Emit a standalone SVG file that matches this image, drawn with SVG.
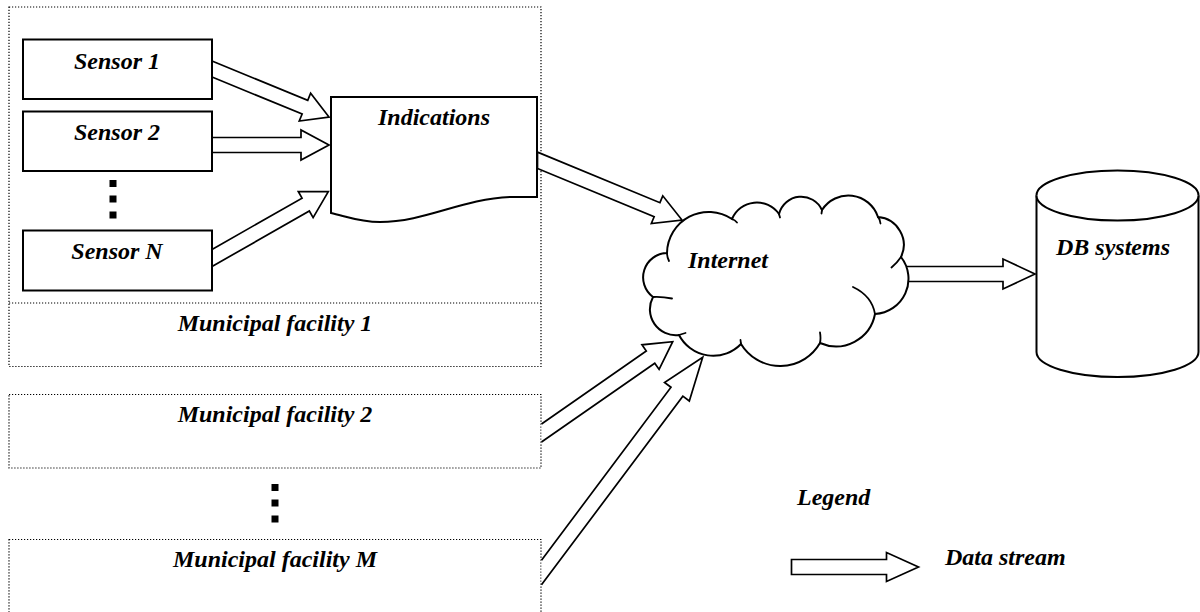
<svg xmlns="http://www.w3.org/2000/svg" width="1200" height="612" viewBox="0 0 1200 612" font-family="'Liberation Serif', 'Times New Roman', Times, serif">
  <style>
    .lbl { font-size: 24px; font-weight: 700; font-style: italic; fill: #000; }
    .mid { text-anchor: middle; }
    .area { fill: none; stroke: #000; stroke-width: 1.2; stroke-dasharray: 1.2 1.8; }
    .box { fill: #fff; stroke: #000; stroke-width: 2; }
    .flow { fill: #fff; stroke: #000; stroke-width: 1.7; stroke-linejoin: miter; }
    .edge { fill: none; stroke: #000; stroke-width: 1.8; stroke-linecap: round; }
    .dot { fill: #000; }
  </style>
  <rect width="1200" height="612" fill="#fff"/>

  <!-- municipal facilities (dotted areas) -->
  <g id="facility-1">
    <rect class="area" x="9" y="7" width="532" height="359.5"/>
    <line class="area" x1="9" y1="303" x2="541" y2="303"/>
    <text class="lbl mid" x="275" y="331">Municipal facility 1</text>
  </g>
  <g id="facility-2">
    <rect class="area" x="9" y="394.5" width="532" height="73.5"/>
    <text class="lbl mid" x="275" y="422">Municipal facility 2</text>
  </g>
  <g id="facility-ellipsis">
    <rect class="dot" x="271.5" y="484" width="7" height="7"/>
    <rect class="dot" x="271.5" y="499.5" width="7" height="7"/>
    <rect class="dot" x="271.5" y="515.5" width="7" height="7"/>
  </g>
  <g id="facility-M">
    <rect class="area" x="9" y="539.5" width="532" height="100"/>
    <text class="lbl mid" x="275" y="566.5">Municipal facility M</text>
  </g>

  <!-- data streams -->
  <g id="connectors">
    <polygon class="flow" points="212,61 307.75,100.28 310.63,93.25 329,117 299.25,121.01 302.13,113.98 212,77"/>
    <polygon class="flow" points="212,137.5 301,137.5 301,130 329,145 301,160 301,152.5 212,152.5"/>
    <polygon class="flow" points="212,249.5 302.04,198.12 298.28,191.51 328.3,191.7 313.12,217.59 309.36,210.98 212,266.5"/>
    <polygon class="flow" points="537.5,152.1 659.95,202.67 662.78,195.83 682,220 651.32,223.55 654.15,216.71 537.5,168.5"/>
    <path class="flow" d="M541.5 424 L646.3 351.05 L641.96 344.81 L672.7 341.7 L659.1 369.45 L654.76 363.21 L541.5 442"/>
    <path class="flow" d="M541.5 560.2 L671 387.27 L664.52 382.42 L702.7 357.3 L689.32 401 L682.84 396.15 L541.5 584.8"/>
    <polygon class="flow" points="900,266.5 1003,266.5 1003,259 1035,274 1003,289 1003,281.5 900,281.5"/>
  </g>

  <!-- sensors -->
  <g id="sensor-1">
    <rect class="box" x="23" y="39.5" width="189" height="59.5"/>
    <text class="lbl mid" x="117" y="68.5">Sensor 1</text>
  </g>
  <g id="sensor-2">
    <rect class="box" x="23" y="111.5" width="189" height="59.5"/>
    <text class="lbl mid" x="117" y="139.5">Sensor 2</text>
  </g>
  <g id="sensor-ellipsis">
    <rect class="dot" x="109.5" y="180" width="7" height="7"/>
    <rect class="dot" x="109.5" y="195.5" width="7" height="7"/>
    <rect class="dot" x="109.5" y="211.5" width="7" height="7"/>
  </g>
  <g id="sensor-N">
    <rect class="box" x="23" y="230.5" width="189" height="60"/>
    <text class="lbl mid" x="117" y="259">Sensor N</text>
  </g>

  <!-- collected readings (document shape) -->
  <g id="indications">
    <path class="box" d="M331 97 H537 V197 H510 C462 199 425 222 380 222 C360 222 345 216 331 213 Z"/>
    <text class="lbl mid" x="434" y="125">Indications</text>
  </g>

  <!-- network cloud -->
  <g id="internet">
    <path class="box" stroke-width="1.8" d="M667 253 A41.7 41.7 0 0 1 732 219 A27 27 0 0 1 779 214 A22.9 22.9 0 0 1 822 210 A31.2 31.2 0 0 1 878 217 A28 28 0 0 1 901 257 A35.3 35.3 0 0 1 875 314 A39.7 39.7 0 0 1 820 343 A45.9 45.9 0 0 1 741 344 A38.6 38.6 0 0 1 679 335 A25.9 25.9 0 0 1 653 297 A24.4 24.4 0 0 1 667 253 Z"/>
    <path class="edge" d="M669 261 Q667 257 667 253 M732 219 Q735 220 737 222.5 M779 214 L780 217.5 M822 210 L821.5 213.5 M878 217 Q880 219 880.5 223.5 M901 257 Q897 263 891.5 267.5 M853 287 Q872 296 875 314 M820 343 Q821 338 820 332.5 M741 344 L740.5 340 M679 335 Q682 334 685.5 333 M653 297 Q662 296.5 672 298.5"/>
    <text class="lbl" x="688" y="268">Internet</text>
  </g>

  <!-- database (cylinder) -->
  <g id="db-systems">
    <path class="box" d="M1036.5 195.5 A81 25 0 0 1 1198.5 195.5 V352 A81 25 0 0 1 1036.5 352 Z"/>
    <path class="box" fill="none" d="M1036.5 195.5 A81 25 0 0 0 1198.5 195.5"/>
    <text class="lbl mid" x="1113" y="255">DB systems</text>
  </g>

  <!-- legend -->
  <g id="legend">
    <text class="lbl" x="797" y="505">Legend</text>
    <polygon class="flow" points="791.5,559.5 886.5,559.5 886.5,552.5 918.5,567 886.5,581.5 886.5,574.5 791.5,574.5"/>
    <text class="lbl" x="945" y="565">Data stream</text>
  </g>
</svg>
